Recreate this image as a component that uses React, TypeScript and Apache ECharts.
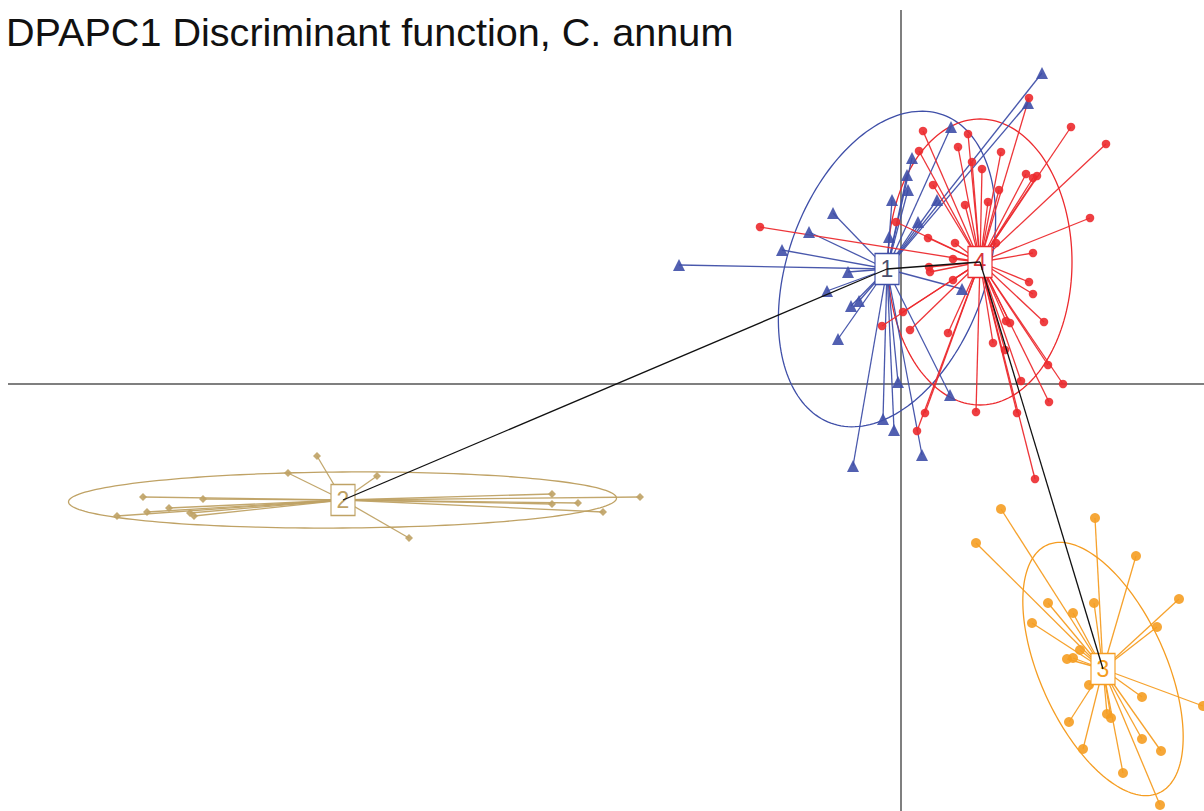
import React, { useEffect, useRef } from "react";
import * as echarts from "echarts";

// Discriminant function scores (LD1, LD2)
const groupLabels = ["1", "2", "3", "4"];
const groupColors = ["#3f4fa8", "#bfa265", "#f59d22", "#ec2a2e"];
const labelColors = ["#4a4f6e", "#bfa265", "#f59d22", "#d8343a"];
const groupSymbols = ["triangle", "diamond", "circle", "circle"];
const groupSymbolSizes = [12, 8, 10, 8.5];

const centroids: number[][] = [
  [-0.28, 2.3],
  [-11.16, -2.32],
  [4.04, -5.7],
  [1.58, 2.44],
];

const group1: number[][] = [
  [2.82, 6.22], [2.54, 5.62], [1.0, 5.14], [0.22, 4.52], [0.12, 4.18], [0.14, 3.88],
  [-0.18, 3.68], [0.72, 3.68], [0.34, 3.24], [-1.36, 3.42], [-1.84, 3.04], [-2.38, 2.68],
  [-4.44, 2.38], [-0.24, 2.94], [-1.06, 2.24], [-1.48, 1.86], [-1.0, 1.56], [-0.84, 1.66],
  [-1.26, 0.9], [-0.06, 0.04], [-0.36, -0.7], [-0.14, -0.92], [-0.96, -1.64], [0.42, -1.42],
  [0.98, -0.22], [1.22, 1.9],
];

const group2: number[][] = [
  [-11.68, -1.44], [-12.26, -1.78], [-10.48, -1.84], [-15.16, -2.26], [-13.96, -2.3],
  [-6.98, -2.2], [-6.98, -2.4], [-6.46, -2.38], [-5.22, -2.26], [-5.96, -2.56],
  [-15.68, -2.64], [-15.08, -2.56], [-14.64, -2.48], [-14.22, -2.58], [-14.14, -2.64],
  [-9.84, -3.08],
];

const group3: number[][] = [
  [2.0, -2.5], [1.5, -3.18], [3.88, -2.68], [4.7, -3.44], [5.56, -4.3], [5.12, -4.86],
  [2.94, -4.38], [3.44, -4.58], [3.86, -4.38], [2.62, -4.78], [3.58, -5.32], [3.32, -5.5],
  [3.44, -5.48], [3.76, -6.02], [4.82, -6.26], [6.04, -6.44], [4.12, -6.6], [4.2, -6.68],
  [3.36, -6.76], [4.82, -7.1], [5.2, -7.34], [3.64, -7.3], [4.44, -7.78], [5.18, -8.42],
];

const group4: number[][] = [
  [0.44, 5.06], [0.36, 4.66], [1.14, 4.74], [1.34, 5.0], [1.42, 4.44], [1.62, 4.3],
  [2.0, 4.64], [0.64, 3.98], [1.28, 3.58], [1.74, 3.64], [1.96, 3.88], [2.5, 4.2],
  [2.64, 4.12], [2.72, 4.16], [3.4, 5.14], [4.1, 4.8], [3.78, 3.32], [0.54, 2.92],
  [1.08, 2.82], [1.04, 2.5], [0.56, 2.34], [0.58, 2.24], [1.04, 2.08], [1.9, 2.82],
  [2.64, 2.62], [2.56, 2.04], [2.64, 1.8], [2.86, 1.24], [2.1, 1.26], [2.18, 1.22],
  [0.94, 1.02], [0.18, 1.08], [0.04, 1.44], [-0.38, 1.16], [1.84, 0.82], [2.08, 0.68],
  [2.94, 0.38], [3.24, 0.0], [2.96, -0.36], [2.4, 0.06], [1.5, -0.56], [2.32, -0.58],
  [0.48, -0.58], [0.32, -0.94], [2.56, 5.72], [-2.82, 3.14], [-0.1, 3.24], [2.68, -1.9],
];

const groupPoints = [group1, group2, group3, group4];

// inertia ellipses: [cx, cy, semi-major, semi-minor, angle (deg), group index]
const ellipses: number[][] = [
  [-0.28, 2.3, 3.28, 1.98, 70, 0],
  [-11.17, -2.32, 5.48, 0.56, 0.4, 1],
  [4.04, -5.7, 2.72, 1.26, 114.3, 2],
  [1.58, 2.44, 2.86, 1.84, 90, 3],
];

// minimum spanning tree between group centroids (indices)
const mstEdges: number[][] = [
  [1, 0],
  [0, 3],
  [3, 2],
];

const xRange = [-18.02, 6.06];
const yRange = [-8.54, 7.68];

export default function App() {
  const ref = useRef<HTMLDivElement>(null);
  useEffect(() => {
    document.body.style.margin = "0";
    if (!ref.current) return;
    const chart = echarts.init(ref.current, undefined, { renderer: "svg" });

    const series: any[] = [];

    // reference axes
    series.push({
      type: "line",
      data: [[-17.86, 0], [xRange[1], 0]],
      symbol: "none",
      silent: true,
      lineStyle: { color: "#555", width: 1.5 },
      z: 1,
    });
    series.push({
      type: "line",
      data: [[0, 7.48], [0, yRange[0]]],
      symbol: "none",
      silent: true,
      lineStyle: { color: "#555", width: 1.5 },
      z: 1,
    });

    // ellipses
    series.push({
      type: "custom",
      silent: true,
      z: 2,
      data: ellipses,
      renderItem: (params: any, api: any) => {
        const cx = api.value(0);
        const cy = api.value(1);
        const a = api.value(2);
        const b = api.value(3);
        const phi = (api.value(4) * Math.PI) / 180;
        const gi = api.value(5);
        const pts: number[][] = [];
        for (let t = 0; t < 360; t += 2) {
          const r = (t * Math.PI) / 180;
          const x = cx + a * Math.cos(r) * Math.cos(phi) - b * Math.sin(r) * Math.sin(phi);
          const y = cy + a * Math.cos(r) * Math.sin(phi) + b * Math.sin(r) * Math.cos(phi);
          pts.push(api.coord([x, y]));
        }
        return {
          type: "polygon",
          shape: { points: pts },
          style: { fill: "none", stroke: groupColors[gi], lineWidth: 1.3 },
        };
      },
    });

    groupPoints.forEach((pts, gi) => {
      series.push({
        type: "lines",
        coordinateSystem: "cartesian2d",
        silent: true,
        z: 3,
        lineStyle: { color: groupColors[gi], width: 1.3, opacity: 0.95 },
        data: pts.map((p) => ({ coords: [centroids[gi], p] })),
      });
      series.push({
        type: "scatter",
        silent: true,
        z: 4,
        symbol: groupSymbols[gi],
        symbolSize: groupSymbolSizes[gi],
        itemStyle: { color: groupColors[gi], opacity: 0.9 },
        data: pts,
      });
    });

    // centroid boxes
    series.push({
      type: "scatter",
      silent: true,
      z: 6,
      symbol: "rect",
      symbolSize: [24, 31],
      itemStyle: { opacity: 1 },
      data: centroids.map((c, i) => ({
        value: c,
        itemStyle: { color: "#ffffff", borderColor: groupColors[i], borderWidth: 1.3, opacity: 1 },
        label: {
          show: true,
          formatter: groupLabels[i],
          position: "inside",
          color: labelColors[i],
          fontSize: 23,
          fontFamily: "Liberation Sans, Arial, sans-serif",
        },
      })),
    });

    // MST links
    series.push({
      type: "lines",
      coordinateSystem: "cartesian2d",
      silent: true,
      z: 7,
      lineStyle: { color: "#111", width: 1.3, opacity: 1 },
      data: mstEdges.map((e) => ({ coords: [centroids[e[0]], centroids[e[1]]] })),
    });

    chart.setOption({
      animation: false,
      backgroundColor: "#ffffff",
      title: {
        text: "DPAPC1 Discriminant function, C. annum",
        left: 1,
        top: 7,
        textStyle: {
          fontSize: 39.6,
          fontWeight: "normal",
          color: "#111",
          fontFamily: "Liberation Sans, Arial, sans-serif",
        },
      },
      grid: { left: 0, right: 0, top: 0, bottom: 0 },
      xAxis: {
        type: "value",
        min: xRange[0],
        max: xRange[1],
        show: false,
      },
      yAxis: {
        type: "value",
        min: yRange[0],
        max: yRange[1],
        show: false,
      },
      series,
    });
    return () => chart.dispose();
  }, []);
  return <div ref={ref} style={{ width: 1204, height: 811 }} />;
}
